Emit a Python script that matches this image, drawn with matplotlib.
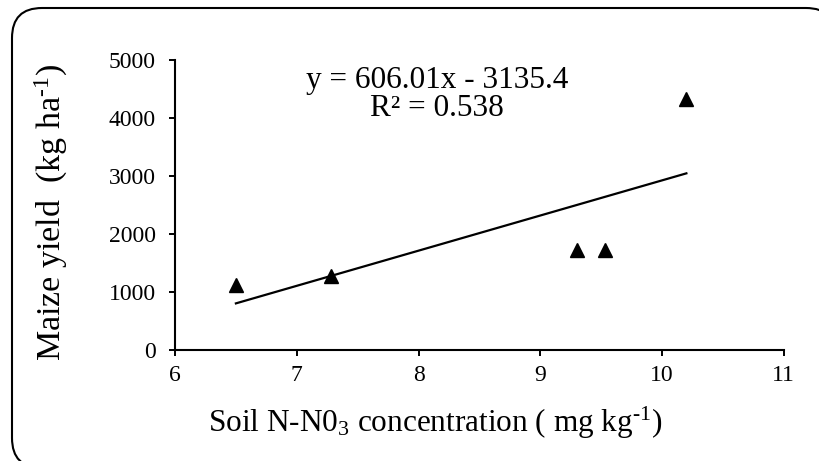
import numpy as np
import matplotlib
matplotlib.use('Agg')
import matplotlib.pyplot as plt
from matplotlib.patches import FancyBboxPatch
from matplotlib.transforms import IdentityTransform

# --- data ---
soil_no3 = [6.5, 7.28, 9.30, 9.53, 10.2]        # mg kg-1
maize_yield = [1120, 1280, 1730, 1730, 4330]    # kg ha-1
slope, intercept = 606.01, -3135.4
r_squared = 0.538

x_ticks = [6, 7, 8, 9, 10, 11]
y_ticks = [0, 1000, 2000, 3000, 4000, 5000]

# --- style ---
plt.rcParams['font.family'] = ['Liberation Serif', 'DejaVu Serif']
plt.rcParams['mathtext.fontset'] = 'custom'
plt.rcParams['mathtext.rm'] = 'Liberation Serif'
plt.rcParams['mathtext.it'] = 'Liberation Serif:italic'
plt.rcParams['mathtext.bf'] = 'Liberation Serif:bold'

fig = plt.figure(figsize=(8.19, 4.61), dpi=100)
ax = fig.add_axes([0.2137, 0.2408, 0.7433, 0.629])

ax.plot(soil_no3, maize_yield, linestyle='none', marker='^', markersize=10,
        color='black', clip_on=False, zorder=3)

# linear trend line over the data range
xfit = np.array([min(soil_no3), max(soil_no3)])
ax.plot(xfit, slope * xfit + intercept, color='black', linewidth=1.6)

ax.set_xlim(6, 11)
ax.set_ylim(0, 5000)
ax.set_xticks(x_ticks)
ax.set_yticks(y_ticks)
ax.tick_params(direction='out', length=4, width=1.4, labelsize=17)
ax.tick_params(axis='x', pad=7)
ax.tick_params(axis='y', pad=10)
for side in ['top', 'right']:
    ax.spines[side].set_visible(False)
for side in ['left', 'bottom']:
    ax.spines[side].set_linewidth(1.5)

# equation and R²
ax.text(0.430, 0.9034, f'y = {slope:.2f}x - {abs(intercept):.1f}',
        transform=ax.transAxes, ha='center', va='baseline', fontsize=22.5)
ax.text(0.430, 0.8069, f'R² = {r_squared:.3f}',
        transform=ax.transAxes, ha='center', va='baseline', fontsize=22.5)

# axis titles
fig.text(0.532, 0.063, r'Soil N-N0$_\mathregular{3}$ concentration ( mg kg$^{\text{-1}}$)',
         ha='center', va='baseline', fontsize=22.5)
fig.text(0.0625, 0.54, r'Maize yield  (kg ha$^{\text{-1}}$)',
         ha='center', va='center', rotation=90, fontsize=24.5)

# rounded frame around the whole chart (pixel coordinates)
frame = FancyBboxPatch((12, -7), 824, 460, boxstyle='round,pad=0,rounding_size=30',
                       transform=IdentityTransform(), facecolor='white',
                       edgecolor='black', linewidth=1.5, clip_on=False, zorder=-1)
fig.patches.append(frame)

fig.savefig('out.png', dpi=100)
